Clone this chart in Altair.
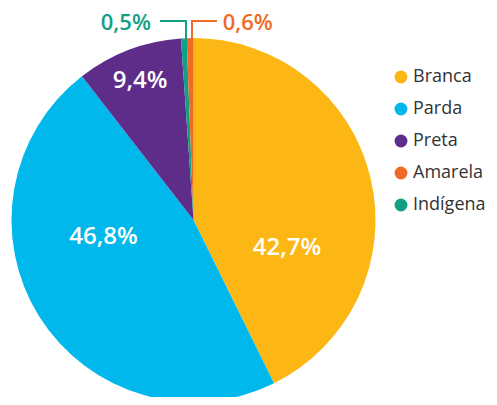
import math
import altair as alt
import pandas as pd

# ---- data ----
categorias = ["Branca", "Parda", "Preta", "Indígena", "Amarela"]
valores = [42.7, 46.8, 9.4, 0.5, 0.6]
rotulos = ["42,7%", "46,8%", "9,4%", "0,5%", "0,6%"]
ordem_legenda = ["Branca", "Parda", "Preta", "Amarela", "Indígena"]
cores_legenda = ["#FDB714", "#00B8EB", "#5E2D8A", "#EF6B25", "#12A085"]

df = pd.DataFrame({
    "cat": categorias,
    "valor": valores,
    "rotulo": rotulos,
    "ordem": list(range(len(categorias))),
})

CX, CY, R = 185.5, 212, 182
FONT = "Open Sans"

th = alt.Scale(domain=[0, 100], range=[0, 2 * math.pi])
cor = alt.Scale(domain=ordem_legenda, range=cores_legenda)

base = (
    alt.Chart(df)
    .transform_stack(stack="valor", groupby=[], as_=["ini", "fim"],
                     sort=[alt.SortField("ordem", order="ascending")])
    .transform_calculate(meio="(datum.ini + datum.fim) / 2")
)

arcs = base.mark_arc(outerRadius=R).encode(
    theta=alt.Theta("ini:Q", scale=th, stack=None),
    theta2="fim:Q",
    color=alt.Color("cat:N", scale=cor, legend=alt.Legend(
        title=None, orient="none", legendX=384, legendY=60,
        symbolType="circle", symbolSize=165, symbolStrokeWidth=0,
        labelFont=FONT, labelFontSize=18, labelColor="#333333",
        rowPadding=14, labelOffset=3, padding=0, labelLimit=200,
    )),
    x=alt.value(CX), y=alt.value(CY),
)


def rotulo(cat, r, dx, dy, color, size, weight=600):
    return base.transform_filter(alt.datum.cat == cat).mark_text(
        radius=r, dx=dx, dy=dy, font=FONT, fontWeight=weight, fontSize=size,
        color=color, align="center", baseline="middle",
    ).encode(
        theta=alt.Theta("meio:Q", scale=th, stack=None),
        text="rotulo:N",
        x=alt.value(CX), y=alt.value(CY),
    )


def linha(cat, color, **enc):
    return base.transform_filter(alt.datum.cat == cat).mark_rule(
        color=color, strokeWidth=2
    ).encode(**{k: alt.value(v) for k, v in enc.items()})


layers = [
    arcs,
    linha("Indígena", "#12A085", x=152, x2=179, y=13),
    linha("Indígena", "#12A085", x=178, y=12, y2=75),
    linha("Amarela", "#EF6B25", x=183, x2=209, y=13),
    linha("Amarela", "#EF6B25", x=184, y=12, y2=75),
    rotulo("Branca", 97, -1, 50, "white", 24),
    rotulo("Parda", 92, -12, -32, "white", 24),
    rotulo("Preta", 150, 0, 1, "white", 24),
    rotulo("Indígena", 200, -57, 3, "#12A085", 22),
    rotulo("Amarela", 200, 58, 3, "#EF6B25", 22),
]

chart = (
    alt.layer(*layers)
    .properties(width=481, height=389, padding=0,
                autosize=alt.AutoSizeParams(type="none"))
    .configure_view(stroke=None)
)

chart.save("out.html", embed_options={"renderer": "svg", "actions": False})
